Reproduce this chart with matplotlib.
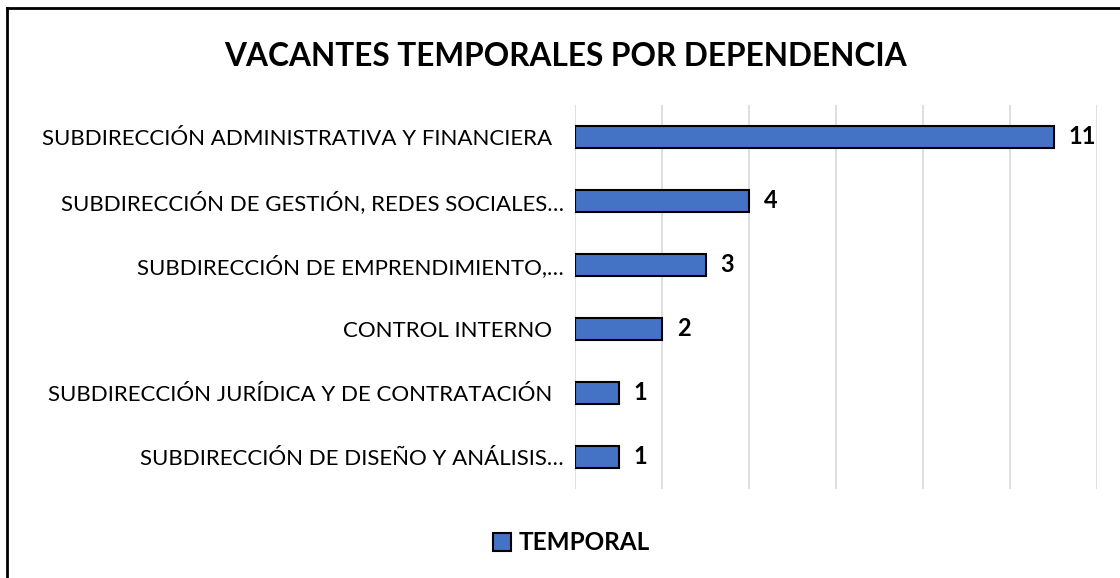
import matplotlib.pyplot as plt
from matplotlib.patches import Patch
import matplotlib.lines as mlines

plt.rcParams['font.family'] = ['Lato', 'DejaVu Sans']

categorias = [
    "SUBDIRECCIÓN ADMINISTRATIVA Y FINANCIERA  ",
    "SUBDIRECCIÓN DE GESTIÓN, REDES SOCIALES…",
    "SUBDIRECCIÓN DE EMPRENDIMIENTO,…",
    "CONTROL INTERNO  ",
    "SUBDIRECCIÓN JURÍDICA Y DE CONTRATACIÓN  ",
    "SUBDIRECCIÓN DE DISEÑO Y ANÁLISIS…",
]
temporal = [11, 4, 3, 2, 1, 1]
serie = "TEMPORAL"
titulo = "VACANTES TEMPORALES POR DEPENDENCIA"

W, H = 1120, 578
fig = plt.figure(figsize=(W / 100, H / 100), dpi=100)
ax = fig.add_axes([575 / W, 1 - 489 / H, (1097 - 575) / W, (489 - 105) / H])

ypos = list(range(len(categorias)))
ax.barh(ypos, temporal, height=0.35, color='#4472C4', edgecolor='black', linewidth=1.5, zorder=3)
for y, v in zip(ypos, temporal):
    ax.text(v + 0.35, y, str(v), va='center', ha='left', fontsize=17, fontweight='bold')

ax.set_xlim(0, 12)
ax.set_ylim(len(categorias) - 0.5, -0.5)
ax.set_xticks(range(0, 13, 2))
ax.set_xticklabels([])
ax.set_yticks(ypos)
ax.set_yticklabels(categorias, fontsize=16)
ax.tick_params(axis='both', length=0)
ax.tick_params(axis='y', pad=8)
ax.grid(axis='x', color='#d9d9d9', linewidth=1.2, zorder=0)
for s in ax.spines.values():
    s.set_visible(False)

fig.text(566 / W, 1 - 56 / H, titulo, ha='center', va='center', fontsize=22.8, fontweight='bold')

handle = Patch(facecolor='#4472C4', edgecolor='black', linewidth=1.5, label=serie)
fig.legend(handles=[handle], loc='center', bbox_to_anchor=(571 / W, 1 - 543 / H), frameon=False,
           prop={'weight': 'bold', 'size': 17.5}, handlelength=0.75, handleheight=0.75, handletextpad=0.3)

# borde del grafico (solo izquierda y arriba visibles)
fig.add_artist(mlines.Line2D([7 / W, 7 / W], [0, 1 - 8 / H], color='black', linewidth=2))
fig.add_artist(mlines.Line2D([7 / W, 1], [1 - 8 / H, 1 - 8 / H], color='black', linewidth=2))

fig.savefig('out.png', dpi=100)
